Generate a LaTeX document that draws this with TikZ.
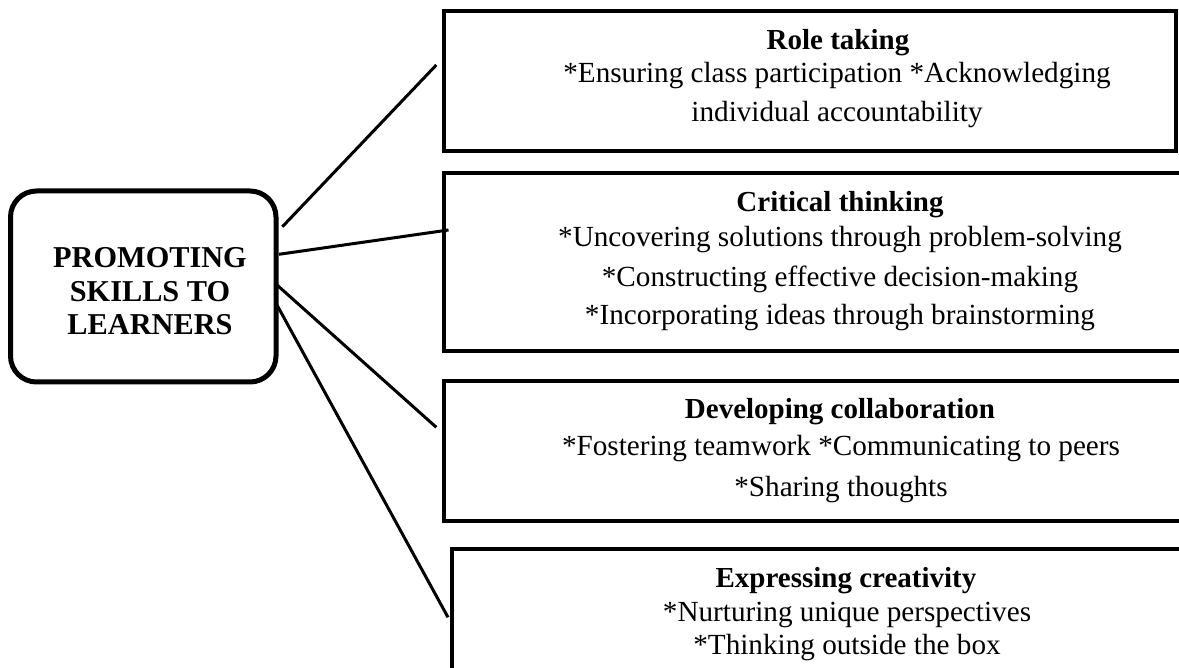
\documentclass[tikz,border=0pt]{standalone}
\usepackage{fontspec}
\setmainfont{Liberation Serif}
\begin{document}
\begin{tikzpicture}[x=1pt,y=-1pt,
  txt/.style={anchor=base, inner sep=0pt, font=\fontsize{29.2}{34}\selectfont},
  head/.style={txt, font=\fontsize{29}{34}\selectfont\bfseries},
  ctxt/.style={anchor=base, inner sep=0pt, font=\fontsize{30.3}{34}\selectfont\bfseries},
  skillbox/.style={draw, line width=4pt, inner sep=0pt},
  link/.style={line width=3pt}]
\useasboundingbox (0,0) rectangle (1179,668);
\clip (0,0) rectangle (1179,668);
% central box
\node[draw, line width=5pt, rounded corners=26pt, inner sep=0pt,
  minimum width=265.5pt, minimum height=191pt] (ctr) at (143.25,286.5) {};
\node[ctxt] (c1) at (150,268) {PROMOTING};
\node[ctxt] (c2) at (150,302) {SKILLS TO};
\node[ctxt] (c3) at (150,335) {LEARNERS};
% skill boxes
\node[skillbox, minimum width=732pt, minimum height=140pt] (b1) at (810,81.5) {};
\node[skillbox, minimum width=780pt, minimum height=178.5pt] (b2) at (834,262.25) {};
\node[skillbox, minimum width=780pt, minimum height=140pt] (b3) at (834,451) {};
\node[skillbox, minimum width=780pt, minimum height=200pt] (b4) at (841.5,648.5) {};
% texts
\node[head] (h1) at (838,50) {Role taking};
\node[txt] (t11) at (837,83) {*Ensuring class participation *Acknowledging};
\node[txt] (t12) at (837,122) {individual accountability};
\node[head] (h2) at (840,212) {Critical thinking};
\node[txt] (t21) at (840,247) {*Uncovering solutions through problem-solving};
\node[txt] (t22) at (840,287) {*Constructing effective decision-making};
\node[txt] (t23) at (840,325) {*Incorporating ideas through brainstorming};
\node[head] (h3) at (840,419) {Developing collaboration};
\node[txt] (t31) at (841,456) {*Fostering teamwork *Communicating to peers};
\node[txt] (t32) at (841,496) {*Sharing thoughts};
\node[head] (h4) at (846,587) {Expressing creativity};
\node[txt] (t41) at (847,621) {*Nurturing unique perspectives};
\node[txt] (t42) at (847,654) {*Thinking outside the box};
% connectors
\coordinate (s1) at (282.4,226.7);
\coordinate (e1) at (436.3,65);
\coordinate (s2) at (279,254.3);
\coordinate (e2) at (448.5,230);
\coordinate (s3) at (277,285);
\coordinate (e3) at (436.3,427.3);
\coordinate (s4) at (277,305);
\coordinate (e4) at (448,617.3);
\draw[link] (s1) -- (e1);
\draw[link] (s2) -- (e2);
\draw[link] (s3) -- (e3);
\draw[link] (s4) -- (e4);
\end{tikzpicture}
\end{document}
